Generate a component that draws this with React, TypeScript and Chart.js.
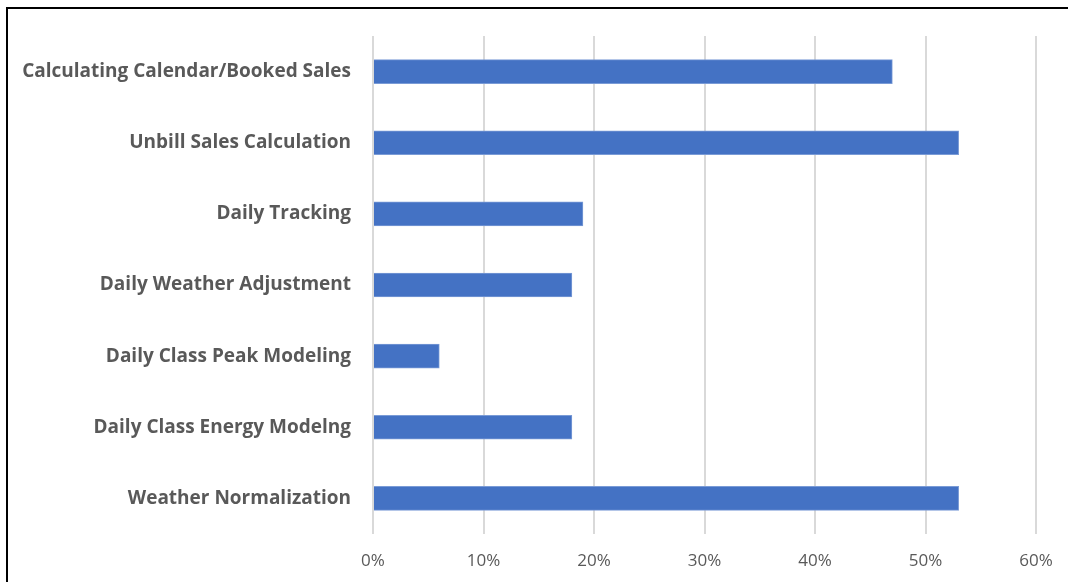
import React, { useEffect, useRef } from "react";
import { Chart, registerables } from "chart.js";

Chart.register(...registerables);

const categories = [
  "Calculating Calendar/Booked Sales",
  "Unbill Sales Calculation",
  "Daily Tracking",
  "Daily Weather Adjustment",
  "Daily Class Peak Modeling",
  "Daily Class Energy Modelng",
  "Weather Normalization",
];
const values = [47, 53, 19, 18, 6, 18, 53];
const xMin = 0;
const xMax = 60;
const xStep = 10;

export default function App() {
  const ref = useRef<HTMLCanvasElement | null>(null);

  useEffect(() => {
    if (!ref.current) return;
    const chart = new Chart(ref.current, {
      type: "bar",
      data: {
        labels: categories,
        datasets: [
          {
            data: values,
            backgroundColor: "#4472C4",
            borderColor: "#7A9BD6",
            borderWidth: 1,
            barThickness: 24,
          },
        ],
      },
      options: {
        indexAxis: "y",
        animation: false,
        responsive: false,
        maintainAspectRatio: false,
        layout: { padding: { top: 36, right: 32, bottom: 0, left: 0 } },
        plugins: { legend: { display: false }, tooltip: { enabled: false } },
        scales: {
          x: {
            min: xMin,
            max: xMax,
            ticks: {
              stepSize: xStep,
              callback: (v: any) => v + "%",
              color: "#595959",
              font: { family: "Open Sans", size: 17 },
              padding: 17,
            },
            grid: { color: "#D9D9D9", lineWidth: 2, drawTicks: false },
            border: { display: false },
            afterFit: (s: any) => {
              s.height = 48;
              s.paddingRight = 0;
              s.paddingLeft = 0;
            },
          },
          y: {
            ticks: {
              color: "#595959",
              font: { family: "Open Sans", size: 19, weight: "bold" },
              padding: 22,
            },
            grid: { display: false, drawTicks: false },
            border: { display: false },
            afterFit: (s: any) => {
              s.width = 373;
            },
          },
        },
      },
    });
    return () => chart.destroy();
  }, []);

  return (
    <div style={{ position: "fixed", left: 0, top: 0, width: 1068, height: 582, background: "#fff", overflow: "hidden" }}>
      <div
        style={{
          position: "absolute",
          left: 6,
          top: 7,
          width: 1100,
          height: 600,
          borderLeft: "2px solid #000",
          borderTop: "2px solid #000",
        }}
      />
      <canvas ref={ref} width={1068} height={582} style={{ position: "absolute", left: 0, top: 0 }} />
    </div>
  );
}
